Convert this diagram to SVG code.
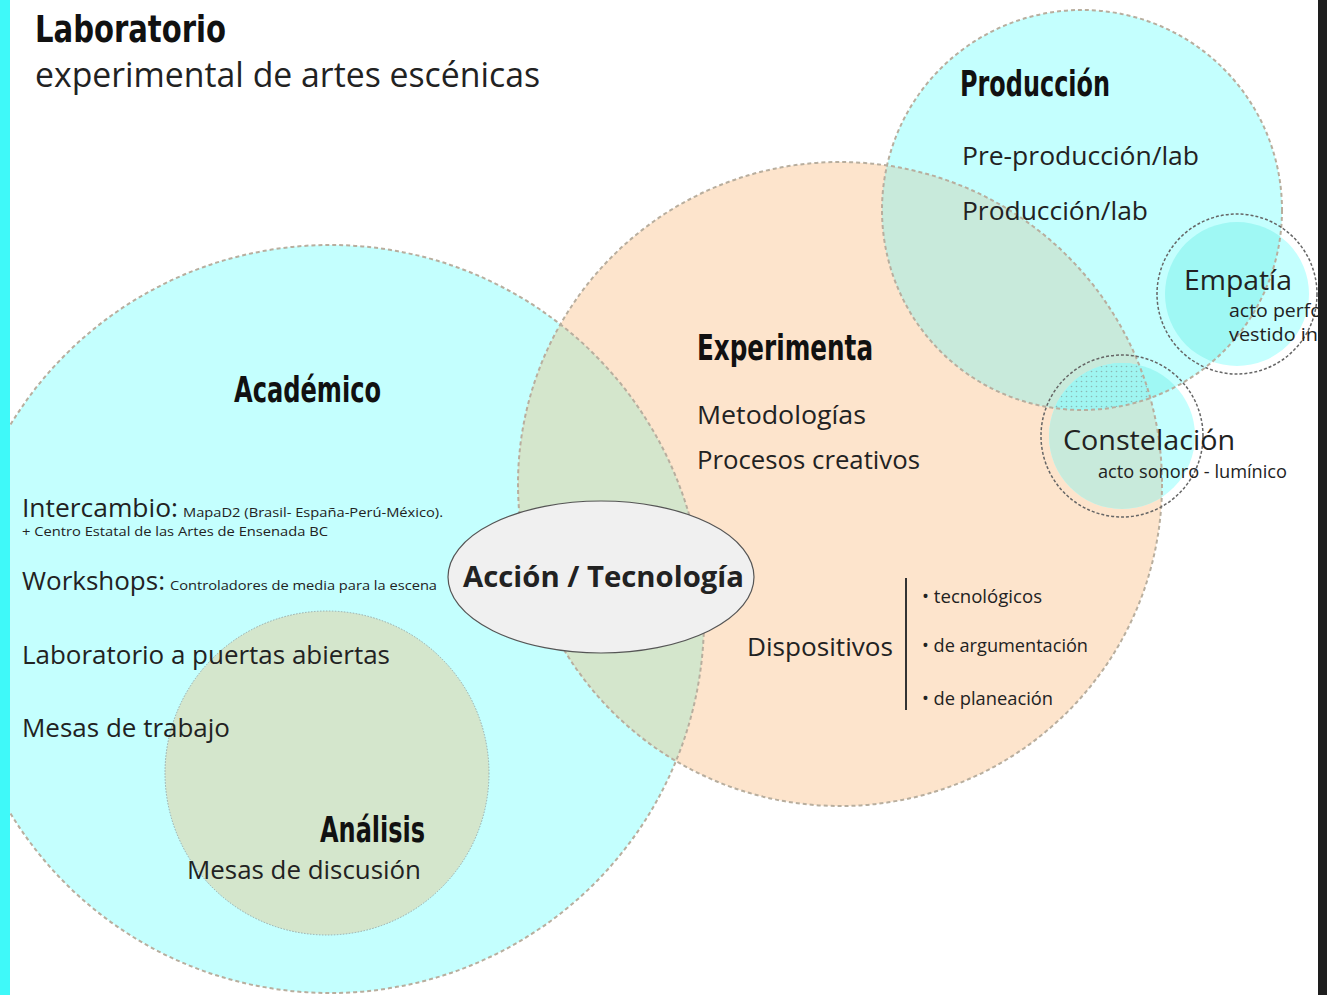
<svg xmlns="http://www.w3.org/2000/svg" width="1327" height="995" viewBox="0 0 1327 995">
<style>
.h{font-family:"Liberation Sans Narrow","DejaVu Sans Condensed","DejaVu Sans",sans-serif;font-weight:bold;font-stretch:condensed;fill:#111}
.t{font-family:"Open Sans","Noto Sans","Liberation Sans",sans-serif;fill:#222}
.big{stroke:#b8ae9e;stroke-width:2;stroke-dasharray:4 3;fill:none}
.sm{stroke:#666;stroke-width:1.5;stroke-dasharray:3 2;fill:none}
</style>
<defs>
<clipPath id="cpAcad"><circle cx="330" cy="619" r="374"/></clipPath>
<clipPath id="cpExp"><circle cx="840" cy="484" r="322"/></clipPath>
<clipPath id="cpProd"><circle cx="1082" cy="210" r="200"/></clipPath>
<clipPath id="cpCon"><circle cx="1122" cy="436" r="73"/></clipPath>
<pattern id="dots" width="5" height="5" patternUnits="userSpaceOnUse">
<rect width="5" height="5" fill="#9ff5f1"/>
<circle cx="1.5" cy="1.5" r="0.8" fill="#8bb8b5"/>
</pattern>
</defs>
<rect width="1327" height="995" fill="#fff"/>
<g id="fills">
<circle cx="330" cy="619" r="374" fill="#c4fffe"/>
<circle cx="840" cy="484" r="322" fill="#fde4cc"/>
<circle cx="840" cy="484" r="322" fill="#d4e6cc" clip-path="url(#cpAcad)"/>
<circle cx="1082" cy="210" r="200" fill="#c4fffe"/>
<circle cx="1082" cy="210" r="200" fill="#c8eadb" clip-path="url(#cpExp)"/>
<circle cx="327" cy="773" r="162" fill="#d4e6cc"/>
<circle cx="1237" cy="294" r="72" fill="#c4fffe"/>
<circle cx="1237" cy="294" r="72" fill="#9ff8f4" clip-path="url(#cpProd)"/>
<circle cx="1122" cy="436" r="73" fill="#c4fffe"/>
<g clip-path="url(#cpCon)"><circle cx="840" cy="484" r="322" fill="#c8eadb"/></g>
<g clip-path="url(#cpCon)"><circle cx="1082" cy="210" r="200" fill="#9ff8f4"/></g>
<g clip-path="url(#cpCon)"><g clip-path="url(#cpProd)"><circle cx="840" cy="484" r="322" fill="url(#dots)"/></g></g>
</g>
<g id="connectors">
<circle cx="330" cy="619" r="374" class="big"/>
<circle cx="840" cy="484" r="322" class="big"/>
<circle cx="1082" cy="210" r="200" class="big" stroke="#c9c2b4" stroke-width="1.5"/>
<circle cx="327" cy="773" r="162" fill="none" stroke="#9aa" stroke-width="1" stroke-dasharray="1.5 1.5"/>
<line x1="906" y1="578" x2="906" y2="710" stroke="#333" stroke-width="2"/>
</g>
<g id="title">
<text class="h" x="35" y="42" font-size="38" textLength="191" lengthAdjust="spacingAndGlyphs">Laboratorio</text>
<text class="t" x="35" y="87" font-size="34" textLength="505" lengthAdjust="spacingAndGlyphs">experimental de artes escénicas</text>
</g>
<g id="academico">
<text class="h" x="234" y="402" font-size="35" textLength="147" lengthAdjust="spacingAndGlyphs">Académico</text>
<text class="t" x="22" y="517" font-size="26" textLength="156" lengthAdjust="spacingAndGlyphs">Intercambio:</text>
<text class="t" x="183" y="517" font-size="13" textLength="260" lengthAdjust="spacingAndGlyphs">MapaD2 (Brasil- España-Perú-México).</text>
<text class="t" x="22" y="536" font-size="13" textLength="306" lengthAdjust="spacingAndGlyphs">+ Centro Estatal de las Artes de Ensenada BC</text>
<text class="t" x="22" y="590" font-size="26" textLength="143" lengthAdjust="spacingAndGlyphs">Workshops:</text>
<text class="t" x="170" y="590" font-size="13" textLength="267" lengthAdjust="spacingAndGlyphs">Controladores de media para la escena</text>
<text class="t" x="22" y="664" font-size="26" textLength="368" lengthAdjust="spacingAndGlyphs">Laboratorio a puertas abiertas</text>
<text class="t" x="22" y="737" font-size="26" textLength="208" lengthAdjust="spacingAndGlyphs">Mesas de trabajo</text>
</g>
<g id="analisis">
<text class="h" x="320" y="842" font-size="35" textLength="105" lengthAdjust="spacingAndGlyphs">Análisis</text>
<text class="t" x="187" y="879" font-size="26" textLength="234" lengthAdjust="spacingAndGlyphs">Mesas de discusión</text>
</g>
<g id="accion">
<ellipse cx="601" cy="577" rx="153" ry="76" fill="#f0f0f0" stroke="#555" stroke-width="1.2"/>
<text class="t" x="463" y="587" font-size="29" font-weight="bold" fill="#111" textLength="281" lengthAdjust="spacingAndGlyphs">Acción / Tecnología</text>
</g>
<g id="experimenta">
<text class="h" x="697" y="360" font-size="35" textLength="176" lengthAdjust="spacingAndGlyphs">Experimenta</text>
<text class="t" x="697" y="424" font-size="26" textLength="169" lengthAdjust="spacingAndGlyphs">Metodologías</text>
<text class="t" x="697" y="469" font-size="26" textLength="223" lengthAdjust="spacingAndGlyphs">Procesos creativos</text>
<text class="t" x="747" y="656" font-size="26" textLength="146" lengthAdjust="spacingAndGlyphs">Dispositivos</text>
<text class="t" x="922" y="603" font-size="18" textLength="120" lengthAdjust="spacingAndGlyphs">• tecnológicos</text>
<text class="t" x="922" y="652" font-size="18" textLength="166" lengthAdjust="spacingAndGlyphs">• de argumentación</text>
<text class="t" x="922" y="705" font-size="18" textLength="131" lengthAdjust="spacingAndGlyphs">• de planeación</text>
</g>
<g id="produccion">
<text class="h" x="960" y="96" font-size="35" textLength="150" lengthAdjust="spacingAndGlyphs">Producción</text>
<text class="t" x="962" y="165" font-size="26" textLength="237" lengthAdjust="spacingAndGlyphs">Pre-producción/lab</text>
<text class="t" x="962" y="220" font-size="26" textLength="186" lengthAdjust="spacingAndGlyphs">Producción/lab</text>
</g>
<g id="empatia">
<circle cx="1237" cy="294" r="80" class="sm"/>
<text class="t" x="1184" y="290" font-size="28" textLength="108" lengthAdjust="spacingAndGlyphs">Empatía</text>
<text class="t" x="1229" y="317" font-size="18" textLength="93" lengthAdjust="spacingAndGlyphs">acto perfo</text>
<text class="t" x="1229" y="341" font-size="18" textLength="96" lengthAdjust="spacingAndGlyphs">vestido int</text>
</g>
<g id="constelacion">
<circle cx="1122" cy="436" r="81" class="sm"/>
<text class="t" x="1063" y="450" font-size="28" textLength="172" lengthAdjust="spacingAndGlyphs">Constelación</text>
<text class="t" x="1098" y="478" font-size="18" textLength="189" lengthAdjust="spacingAndGlyphs">acto sonoro - lumínico</text>
</g>
<rect x="0" y="0" width="10" height="995" fill="#3ff9f9"/>
<rect x="1318" y="0" width="9" height="995" fill="#1e1e1e"/>
</svg>
